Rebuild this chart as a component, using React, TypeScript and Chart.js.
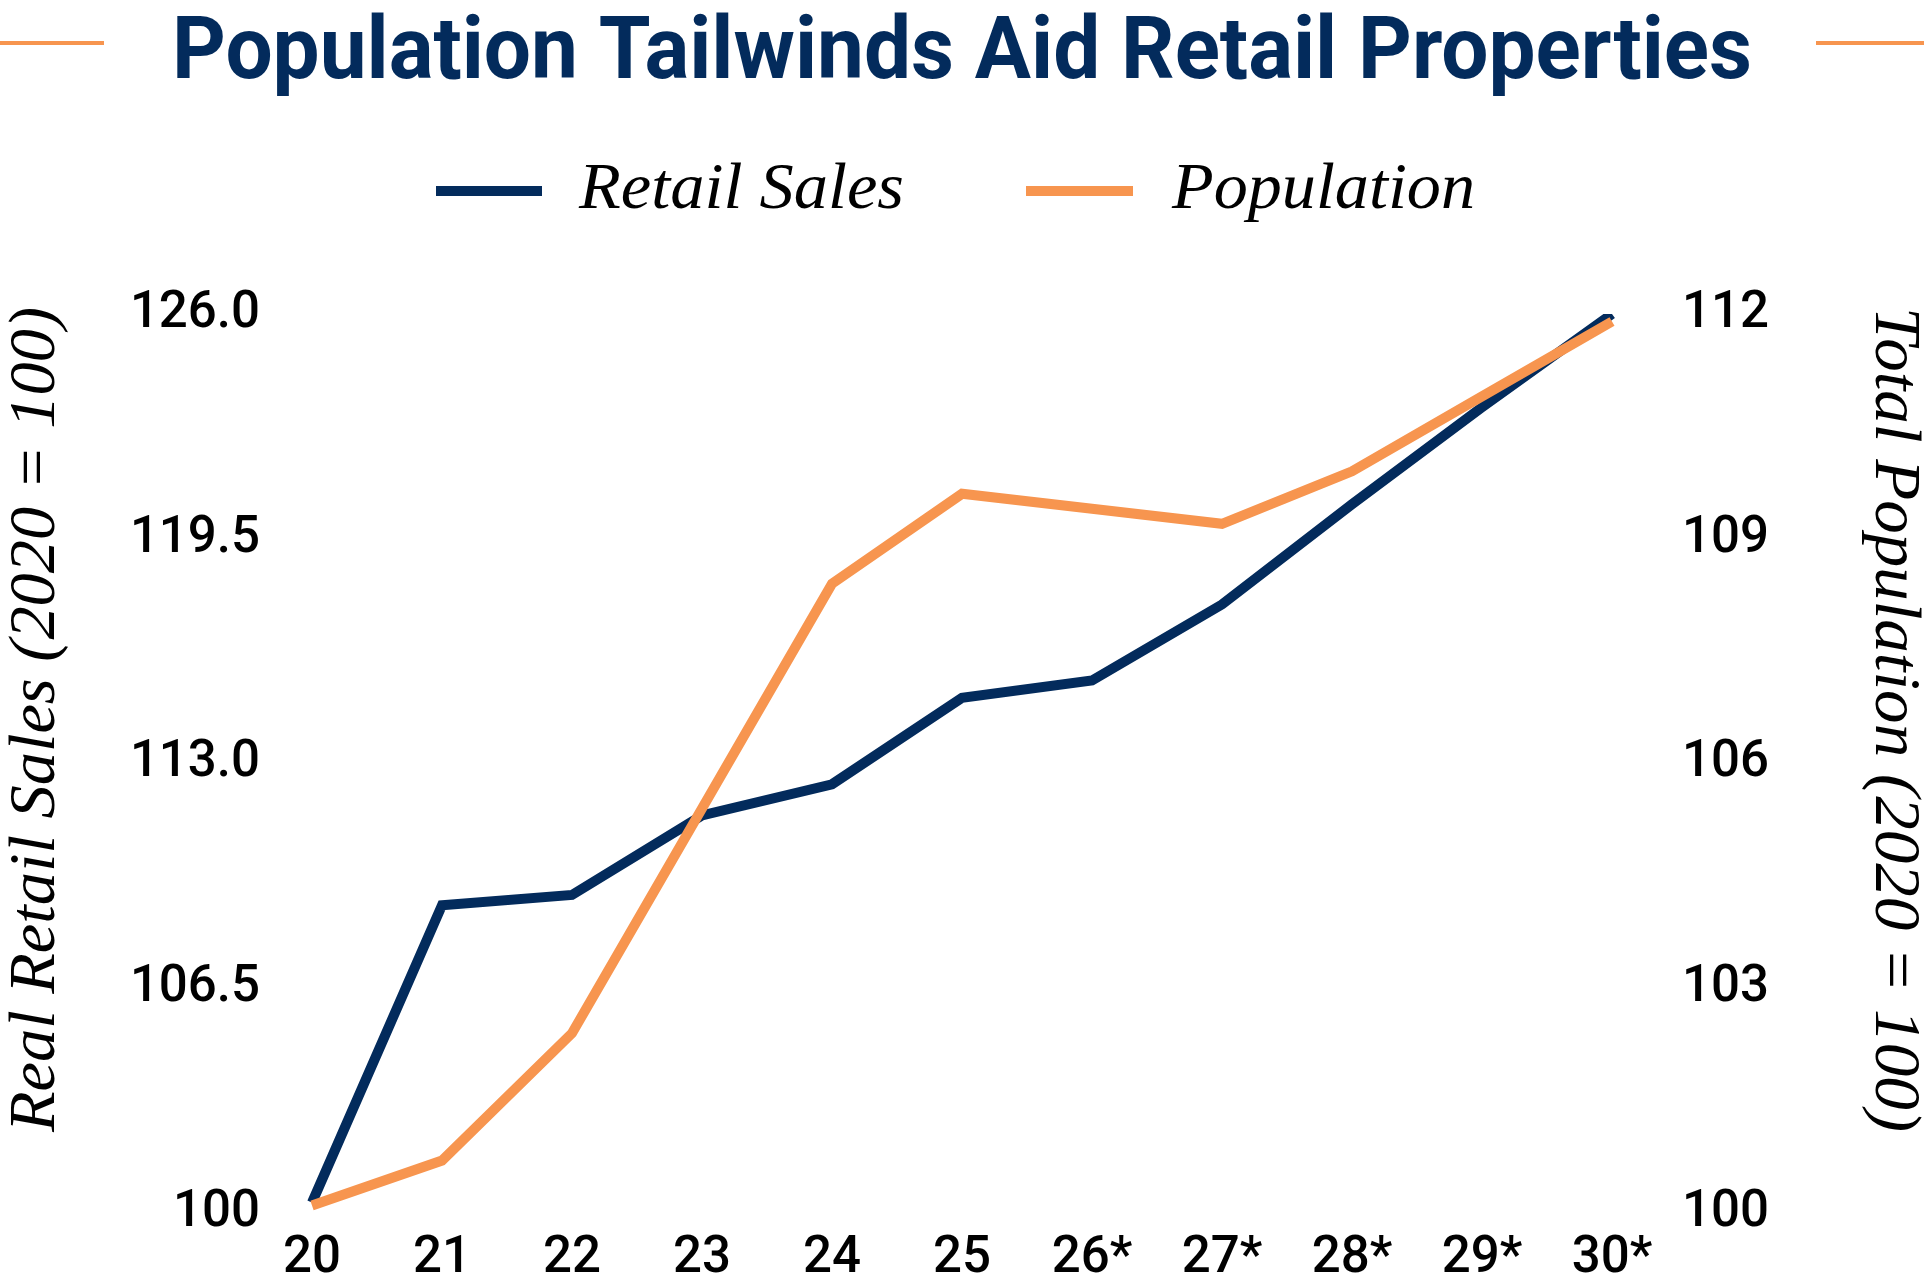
import React, { useEffect, useRef } from 'react';
import { Chart, registerables } from 'chart.js';

Chart.register(...registerables);

// ---- data ----
const categories = ['20', '21', '22', '23', '24', '25', '26*', '27*', '28*', '29*', '30*'];
const retailSales = [100.3, 108.9, 109.2, 111.5, 112.4, 114.9, 115.4, 117.6, 120.5, 123.3, 126.0];
const population = [100.1, 100.7, 102.4, 105.4, 108.4, 109.6, 109.4, 109.2, 109.9, 110.9, 111.9];
const leftTickValues = [100, 106.5, 113, 119.5, 126];
const leftTickLabels = ['100', '106.5', '113.0', '119.5', '126.0'];
const rightTickValues = [100, 103, 106, 109, 112];
const rightTickLabels = ['100', '103', '106', '109', '112'];
const seriesNames = ['Retail Sales', 'Population'];
const titleText = 'Population Tailwinds Aid Retail Properties';
const leftAxisTitle = 'Real Retail Sales (2020 = 100)';
const rightAxisTitle = 'Total Population (2020 = 100)';

const W = 1924;
const H = 1288;
const NAVY = '#032b5c';
const ORANGE = '#f7954f';
const TICK_FONT = 'Roboto';
const SERIF = '"Liberation Serif", "DejaVu Serif", serif';

// draws text horizontally scaled so that it spans exactly `width` pixels
function drawFitted(ctx: CanvasRenderingContext2D, text: string, x: number, y: number, width: number) {
  const natural = ctx.measureText(text).width;
  const sx = width / natural;
  ctx.save();
  ctx.translate(x, y);
  ctx.scale(sx, 1);
  ctx.textAlign = 'left';
  ctx.fillText(text, 0, 0);
  ctx.restore();
}

const decorations = {
  id: 'decorations',
  afterDraw(chart: any) {
    const ctx = chart.ctx as CanvasRenderingContext2D;
    ctx.save();
    ctx.textBaseline = 'alphabetic';
    // title
    ctx.font = 'bold 87px Roboto';
    ctx.fillStyle = NAVY;
    drawFitted(ctx, titleText, 172, 78, 1580);
    // orange rules beside the title
    ctx.fillStyle = ORANGE;
    ctx.fillRect(0, 41, 104, 4);
    ctx.fillRect(1816, 41, W - 1816, 4);

    // legend
    const items = [
      { color: NAVY, x0: 436, x1: 542, tx: 579, tw: 325, text: seriesNames[0] },
      { color: ORANGE, x0: 1026, x1: 1133, tx: 1172, tw: 303, text: seriesNames[1] },
    ];
    ctx.font = 'italic 65px ' + SERIF;
    for (const it of items) {
      ctx.fillStyle = it.color;
      ctx.fillRect(it.x0, 186, it.x1 - it.x0, 10);
      ctx.fillStyle = '#000';
      drawFitted(ctx, it.text, it.tx, 208, it.tw);
    }

    // axis titles
    ctx.font = 'italic 65px ' + SERIF;
    ctx.fillStyle = '#000';
    ctx.save();
    ctx.translate(54, 1132);
    ctx.rotate(-Math.PI / 2);
    drawFitted(ctx, leftAxisTitle, 0, 0, 825);
    ctx.restore();
    ctx.save();
    ctx.translate(1876, 307);
    ctx.rotate(Math.PI / 2);
    drawFitted(ctx, rightAxisTitle, 0, 0, 825);
    ctx.restore();
    ctx.restore();
  },
};

const fitVertical = (width: number) => (s: any) => {
  s.width = width;
  s.paddingTop = 0;
  s.paddingBottom = 0;
};

export default function App() {
  const canvasRef = useRef<HTMLCanvasElement | null>(null);

  useEffect(() => {
    document.body.style.margin = '0';
    document.body.style.overflow = 'hidden';
    const canvas = canvasRef.current;
    if (!canvas) return;
    const tickFont = { family: TICK_FONT, size: 51, weight: 500 };
    const chart = new Chart(canvas, {
      type: 'line',
      data: {
        labels: categories,
        datasets: [
          {
            label: seriesNames[0],
            data: retailSales,
            yAxisID: 'yL',
            borderColor: NAVY,
            backgroundColor: NAVY,
            borderWidth: 10,
            pointRadius: 0,
            tension: 0,
            order: 1,
          },
          {
            label: seriesNames[1],
            data: population,
            yAxisID: 'yR',
            borderColor: ORANGE,
            backgroundColor: ORANGE,
            borderWidth: 10,
            pointRadius: 0,
            tension: 0,
            order: 0,
          },
        ],
      },
      options: {
        animation: false,
        responsive: false,
        devicePixelRatio: 1,
        layout: { padding: { top: 314, left: 0, right: 0, bottom: 0 } },
        plugins: {
          legend: { display: false },
          title: { display: false },
          tooltip: { enabled: false },
        },
        scales: {
          x: {
            type: 'category',
            grid: { display: false, drawTicks: false },
            border: { display: false },
            ticks: { font: tickFont, color: '#000', padding: 16, maxRotation: 0, autoSkip: false },
            afterFit: (s: any) => { s.height = 75; },
          },
          yL: {
            type: 'linear',
            position: 'left',
            min: 100,
            max: 126,
            afterBuildTicks: (s: any) => { s.ticks = leftTickValues.map((v) => ({ value: v })); },
            ticks: {
              font: tickFont,
              color: '#000',
              padding: 52,
              callback: (_v: any, i: number) => leftTickLabels[i],
            },
            grid: { display: false, drawTicks: false },
            border: { display: false },
            afterFit: fitVertical(312),
          },
          yR: {
            type: 'linear',
            position: 'right',
            min: 100,
            max: 112,
            afterBuildTicks: (s: any) => { s.ticks = rightTickValues.map((v) => ({ value: v })); },
            ticks: {
              font: tickFont,
              color: '#000',
              padding: 70,
              callback: (_v: any, i: number) => rightTickLabels[i],
            },
            grid: { display: false, drawTicks: false },
            border: { display: false },
            afterFit: fitVertical(312),
          },
        },
      } as any,
      plugins: [decorations],
    });
    return () => chart.destroy();
  }, []);

  return (
    <div style={{ width: W + 'px', height: H + 'px', background: '#fff' }}>
      <canvas ref={canvasRef} width={W} height={H} style={{ display: 'block', width: W + 'px', height: H + 'px' }} />
    </div>
  );
}
